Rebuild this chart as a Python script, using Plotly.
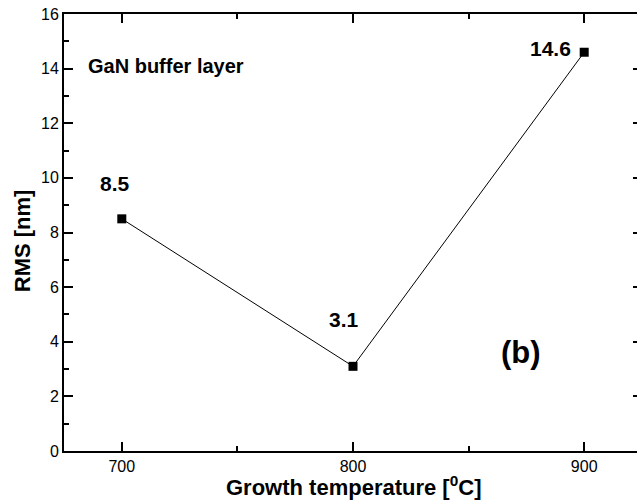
import plotly.graph_objects as go

# Surface roughness of the GaN buffer layer vs. growth temperature
temperature = [700, 800, 900]
rms = [8.5, 3.1, 14.6]
# label offsets (px) relative to each point
label_dx = [-7, -9, -34]
label_dy = [35, 47, 4]

FONT = "Arial, Liberation Sans, sans-serif"

fig = go.Figure()
fig.add_trace(go.Scatter(
    x=temperature, y=rms, mode="lines+markers",
    line=dict(color="black", width=1),
    marker=dict(symbol="square", size=9, color="black"),
    showlegend=False, cliponaxis=False,
))

for t, v, dx, dy in zip(temperature, rms, label_dx, label_dy):
    fig.add_annotation(x=t, y=v, text=f"<b>{v}</b>", showarrow=False,
                       xshift=dx, yshift=dy, xanchor="center", yanchor="middle",
                       font=dict(family=FONT, size=21, color="black"))

fig.add_annotation(xref="paper", yref="paper", x=0.038, y=0.8815,
                   xanchor="left", yanchor="middle",
                   text="<b>GaN buffer layer</b>", showarrow=False,
                   font=dict(family=FONT, size=20, color="black"))
fig.add_annotation(xref="paper", yref="paper", x=0.7914, y=0.2255,
                   xanchor="center", yanchor="middle",
                   text="<b>(b)</b>", showarrow=False,
                   font=dict(family=FONT, size=31, color="black"))

# axis titles
fig.add_annotation(xref="paper", yref="paper", x=0, y=0.48, xshift=-42,
                   xanchor="center", yanchor="middle",
                   text="<b>RMS [nm]</b>", textangle=-90, showarrow=False,
                   font=dict(family=FONT, size=22, color="black"))
fig.add_annotation(xref="paper", yref="paper", x=0.5017, y=0, yshift=-35,
                   xanchor="center", yanchor="middle",
                   text="<b>Growth temperature [<sup>0</sup>C]</b>", showarrow=False,
                   font=dict(family=FONT, size=22, color="black"))

axis_common = dict(
    showline=True, linecolor="black", linewidth=2, mirror="allticks",
    ticks="inside", ticklen=9, tickwidth=2, tickcolor="black",
    showgrid=False, zeroline=False,
    tickfont=dict(family=FONT, size=16, color="black"),
)

fig.update_xaxes(
    range=[675, 925], tick0=700, dtick=100,
    minor=dict(ticks="inside", ticklen=5, tickwidth=2, tickcolor="black", dtick=50, tick0=700),
    **axis_common,
)
fig.update_yaxes(
    range=[0, 16], tick0=0, dtick=2,
    minor=dict(ticks="inside", ticklen=5, tickwidth=2, tickcolor="black", dtick=1, tick0=0),
    **axis_common,
)

fig.update_layout(
    width=650, height=502,
    margin=dict(l=64, r=6, t=12, b=51),
    paper_bgcolor="white", plot_bgcolor="white",
)

fig.write_html("out.html",
               post_script="document.documentElement.style.overflow='hidden';document.body.style.overflow='hidden';document.body.style.margin='0';")
